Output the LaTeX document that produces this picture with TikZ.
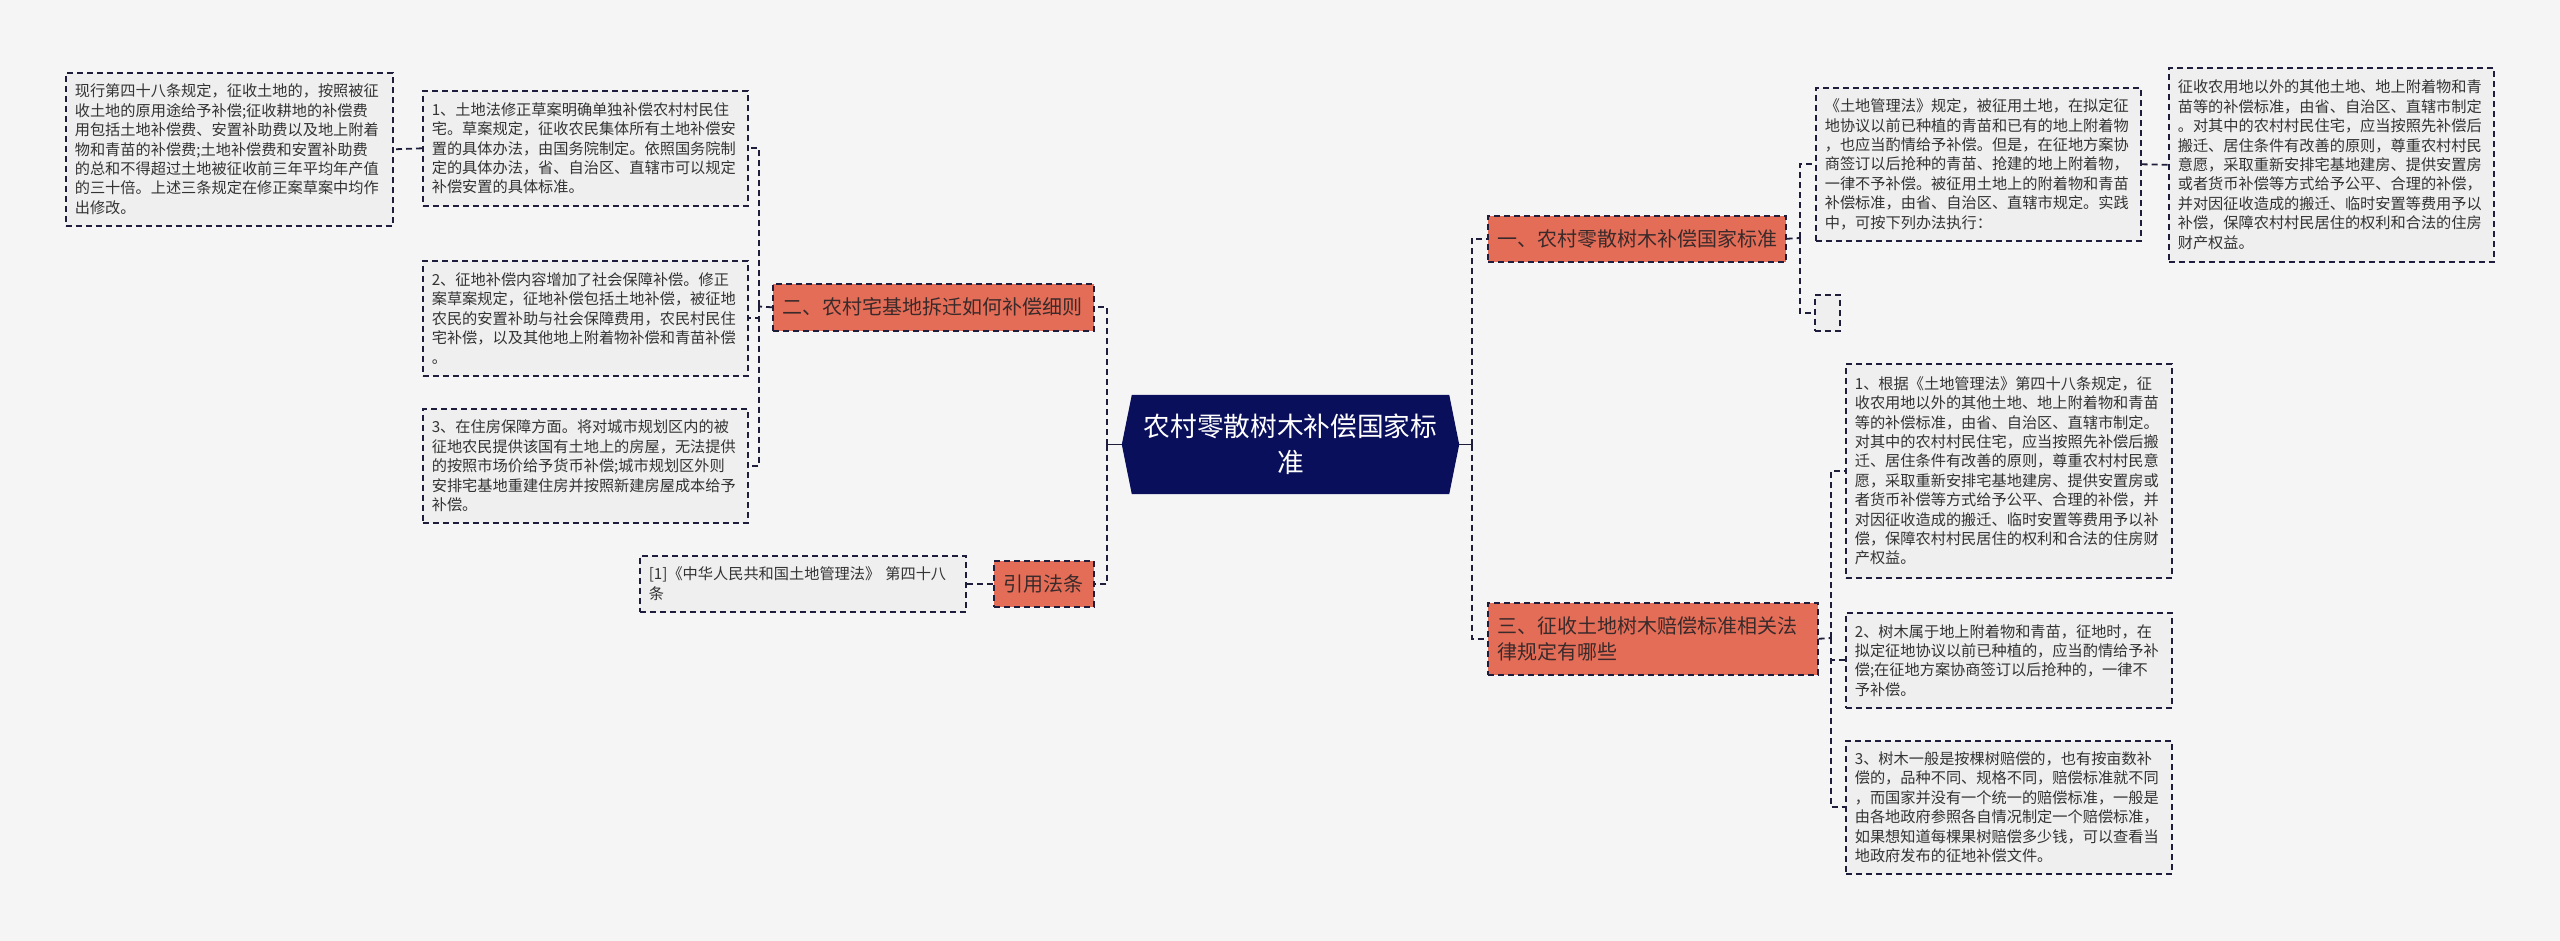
\documentclass[tikz,border=0pt]{standalone}
\usepackage{fontspec}
\setmainfont{Noto Sans CJK SC}
\usetikzlibrary{backgrounds}
\definecolor{bgc}{HTML}{F5F5F5}
\definecolor{leafc}{HTML}{EFEFEF}
\definecolor{bordc}{HTML}{1E1E3C}
\definecolor{branchc}{HTML}{E46D58}
\definecolor{btextc}{HTML}{3A2A2A}
\definecolor{textc}{HTML}{333333}
\definecolor{navyc}{HTML}{0A0F5C}
\begin{document}
\begin{tikzpicture}[x=1pt,y=-1pt,
  leaf/.style={draw=bordc, fill=leafc, dash pattern=on 6pt off 4pt, line width=1.6pt,
    anchor=north west, align=left, inner xsep=9pt, inner ysep=4pt, text=textc,
    font=\fontsize{15.2}{19.4}\selectfont},
  branch/.style={draw=bordc, fill=branchc, dash pattern=on 6pt off 4pt, line width=1.6pt,
    anchor=north west, align=left, inner xsep=10pt, inner ysep=3pt, text=btextc,
    font=\fontsize{20}{26}\selectfont},
  emptybox/.style={draw=bordc, fill=leafc, dash pattern=on 6pt off 4pt, line width=1.6pt,
    anchor=north west, inner sep=0pt, minimum width=25pt, minimum height=36pt},
  conn/.style={draw=bordc, line width=1.8pt, dash pattern=on 6pt off 4pt},
  solidconn/.style={draw=bordc, line width=1.8pt}
]
\useasboundingbox (0,0) rectangle (2560,941);
\begin{scope}[on background layer]
\fill[bgc] (0,0) rectangle (2560,941);
\end{scope}

% center
\node[text=white, font=\fontsize{26.7}{36}\selectfont, align=center, minimum width=337pt,
  minimum height=99pt, inner sep=0pt] (center) at (1290.5,444.5)
  {农村零散树木补偿国家标\\准};
\begin{scope}[on background layer]
\fill[navyc] ([xshift=10pt]center.north west) -- ([xshift=-10pt]center.north east)
  -- (center.east) -- ([xshift=-10pt]center.south east)
  -- ([xshift=10pt]center.south west) -- (center.west) -- cycle;
\end{scope}

% branches
\node[branch, text width=278pt, minimum height=46pt] (b1) at (1487,215) {一、农村零散树木补偿国家标准};
\node[branch, text width=310pt, minimum height=72pt] (b3) at (1487,602) {三、征收土地树木赔偿标准相关法\\律规定有哪些};
\node[branch, text width=301pt, minimum height=47pt] (b2) at (772,283) {二、农村宅基地拆迁如何补偿细则};
\node[branch, text width=80pt, minimum height=46pt, inner xsep=10pt] (cite) at (993,560) {引用法条};

% left leaves
\node[leaf, text width=309pt, minimum height=153pt] (l0) at (65,72) {现行第四十八条规定，征收土地的，按照被征\\
收土地的原用途给予补偿;征收耕地的补偿费\\
用包括土地补偿费、安置补助费以及地上附着\\
物和青苗的补偿费;土地补偿费和安置补助费\\
的总和不得超过土地被征收前三年平均年产值\\
的三十倍。上述三条规定在修正案草案中均作\\
出修改。};
\node[leaf, text width=307pt, minimum height=115pt] (l1) at (422,90) {1、土地法修正草案明确单独补偿农村村民住\\
宅。草案规定，征收农民集体所有土地补偿安\\
置的具体办法，由国务院制定。依照国务院制\\
定的具体办法，省、自治区、直辖市可以规定\\
补偿安置的具体标准。};
\node[leaf, text width=307pt, minimum height=115pt] (l2) at (422,260) {2、征地补偿内容增加了社会保障补偿。修正\\
案草案规定，征地补偿包括土地补偿，被征地\\
农民的安置补助与社会保障费用，农民村民住\\
宅补偿，以及其他地上附着物补偿和青苗补偿\\
。};
\node[leaf, text width=307pt, minimum height=114pt] (l3) at (422,408) {3、在住房保障方面。将对城市规划区内的被\\
征地农民提供该国有土地上的房屋，无法提供\\
的按照市场价给予货币补偿;城市规划区外则\\
安排宅基地重建住房并按照新建房屋成本给予\\
补偿。};
\node[leaf, text width=308pt, minimum height=56pt] (ref) at (639,555) {[1]《中华人民共和国土地管理法》 第四十八\\条};

% right leaves
\node[leaf, text width=307pt, minimum height=153pt] (r1a) at (1815,87) {《土地管理法》规定，被征用土地，在拟定征\\
地协议以前已种植的青苗和已有的地上附着物\\
，也应当酌情给予补偿。但是，在征地方案协\\
商签订以后抢种的青苗、抢建的地上附着物，\\
一律不予补偿。被征用土地上的附着物和青苗\\
补偿标准，由省、自治区、直辖市规定。实践\\
中，可按下列办法执行：};
\node[leaf, text width=307pt, minimum height=194pt] (r1b) at (2168,67) {征收农用地以外的其他土地、地上附着物和青\\
苗等的补偿标准，由省、自治区、直辖市制定\\
。对其中的农村村民住宅，应当按照先补偿后\\
搬迁、居住条件有改善的原则，尊重农村村民\\
意愿，采取重新安排宅基地建房、提供安置房\\
或者货币补偿等方式给予公平、合理的补偿，\\
并对因征收造成的搬迁、临时安置等费用予以\\
补偿，保障农村村民居住的权利和合法的住房\\
财产权益。};
\node[emptybox] (emp) at (1814,294) {};
\node[leaf, text width=308pt, minimum height=214pt] (r3a) at (1845,363) {1、根据《土地管理法》第四十八条规定，征\\
收农用地以外的其他土地、地上附着物和青苗\\
等的补偿标准，由省、自治区、直辖市制定。\\
对其中的农村村民住宅，应当按照先补偿后搬\\
迁、居住条件有改善的原则，尊重农村村民意\\
愿，采取重新安排宅基地建房、提供安置房或\\
者货币补偿等方式给予公平、合理的补偿，并\\
对因征收造成的搬迁、临时安置等费用予以补\\
偿，保障农村村民居住的权利和合法的住房财\\
产权益。};
\node[leaf, text width=308pt, minimum height=95pt] (r3b) at (1845,612) {2、树木属于地上附着物和青苗，征地时，在\\
拟定征地协议以前已种植的，应当酌情给予补\\
偿;在征地方案协商签订以后抢种的，一律不\\
予补偿。};
\node[leaf, text width=308pt, minimum height=133pt] (r3c) at (1845,740) {3、树木一般是按棵树赔偿的，也有按亩数补\\
偿的，品种不同、规格不同，赔偿标准就不同\\
，而国家并没有一个统一的赔偿标准，一般是\\
由各地政府参照各自情况制定一个赔偿标准，\\
如果想知道每棵果树赔偿多少钱，可以查看当\\
地政府发布的征地补偿文件。};

% spine coordinates
\coordinate (lsp) at (1107,444.5);
\coordinate (rsp) at (1472,444.5);
\coordinate (b1s) at (1800,238);
\coordinate (b3s) at (1831,638);
\coordinate (b2s) at (759,306.5);

% connectors
\draw[solidconn] (center.west) -- (lsp);
\draw[solidconn] (center.east) -- (rsp);
\draw[conn] (lsp) |- (b2.east);
\draw[conn] (lsp) |- (cite.east);
\draw[conn] (rsp) |- (b1.west);
\draw[conn] (rsp) |- (b3.west);
\draw[conn] (b1.east) -- (b1s);
\draw[conn] (b1s) |- (r1a.west);
\draw[conn] (b1s) |- (emp.west);
\draw[conn] (r1a.east) -- (r1b.west);
\draw[conn] (b3.east) -- (b3s);
\draw[conn] (b3s) |- (r3a.west);
\draw[conn] (b3s) |- (r3b.west);
\draw[conn] (b3s) |- (r3c.west);
\draw[conn] (b2.west) -- (b2s);
\draw[conn] (b2s) |- (l1.east);
\draw[conn] (b2s) |- (l2.east);
\draw[conn] (b2s) |- (l3.east);
\draw[conn] (l1.west) -- (l0.east);
\draw[conn] (cite.west) -- (ref.east);
\end{tikzpicture}
\end{document}
